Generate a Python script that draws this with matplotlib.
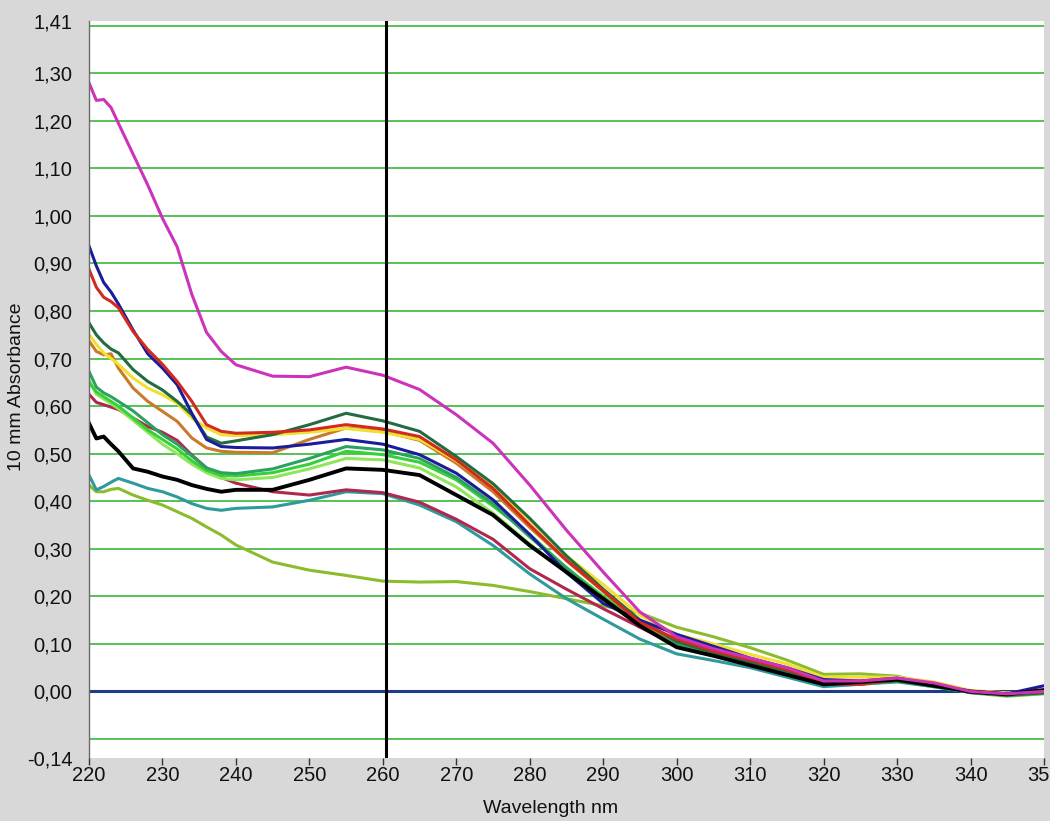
import matplotlib
matplotlib.use("Agg")
import matplotlib.pyplot as plt
from matplotlib.ticker import FixedLocator, FuncFormatter

plt.rcParams['font.family'] = ['Liberation Sans', 'DejaVu Sans']

# wavelength grid (nm) shared by all spectra
wl = [220, 221, 222, 223, 224, 226, 228, 230, 232, 234, 236, 238, 240,
      245, 250, 255, 260, 265, 270, 275, 280, 285, 290, 295, 300,
      305, 310, 315, 320, 325, 330, 335, 340, 345, 350]

# absorbance spectra (10 mm path)
magenta = [1.28, 1.243, 1.245, 1.228, 1.195, 1.13, 1.065, 0.995, 0.935, 0.835, 0.755, 0.715, 0.687,
           0.663, 0.662, 0.682, 0.665, 0.635, 0.582, 0.522, 0.434, 0.339, 0.251, 0.167, 0.115,
           0.09, 0.07, 0.05, 0.022, 0.022, 0.028, 0.018, 0.0, -0.005, 0.0]
navy = [0.937, 0.895, 0.86, 0.84, 0.815, 0.76, 0.71, 0.68, 0.645, 0.585, 0.53, 0.515, 0.513,
        0.512, 0.52, 0.53, 0.52, 0.498, 0.459, 0.403, 0.33, 0.25, 0.185, 0.15, 0.12,
        0.095, 0.07, 0.05, 0.025, 0.022, 0.028, 0.015, -0.002, -0.005, 0.012]
red = [0.888, 0.85, 0.829, 0.82, 0.807, 0.757, 0.719, 0.688, 0.652, 0.61, 0.561, 0.547, 0.543,
       0.545, 0.55, 0.561, 0.552, 0.536, 0.487, 0.427, 0.35, 0.276, 0.212, 0.145, 0.11,
       0.085, 0.066, 0.046, 0.02, 0.015, 0.025, 0.014, 0.0, -0.005, 0.0]
dkgreen = [0.775, 0.75, 0.733, 0.72, 0.712, 0.677, 0.652, 0.634, 0.61, 0.582, 0.535, 0.522, 0.527,
           0.54, 0.561, 0.585, 0.569, 0.547, 0.494, 0.437, 0.364, 0.285, 0.215, 0.15, 0.105,
           0.082, 0.062, 0.043, 0.02, 0.018, 0.022, 0.012, -0.002, -0.008, -0.003]
yellow = [0.751, 0.73, 0.712, 0.70, 0.688, 0.659, 0.638, 0.624, 0.606, 0.575, 0.554, 0.54, 0.538,
          0.54, 0.545, 0.553, 0.545, 0.53, 0.485, 0.43, 0.36, 0.285, 0.225, 0.16, 0.12,
          0.1, 0.078, 0.058, 0.03, 0.03, 0.03, 0.02, 0.002, -0.003, 0.002]
orange = [0.737, 0.715, 0.708, 0.71, 0.68, 0.638, 0.61, 0.589, 0.568, 0.533, 0.512, 0.505, 0.503,
          0.502, 0.53, 0.554, 0.547, 0.528, 0.48, 0.42, 0.345, 0.275, 0.21, 0.145, 0.105,
          0.085, 0.065, 0.045, 0.02, 0.018, 0.024, 0.016, 0.0, -0.006, 0.0]
seagreen = [0.673, 0.64, 0.628, 0.62, 0.61, 0.59, 0.565, 0.54, 0.52, 0.495, 0.47, 0.46, 0.458,
            0.468, 0.49, 0.515, 0.508, 0.49, 0.45, 0.395, 0.325, 0.26, 0.195, 0.14, 0.1,
            0.08, 0.06, 0.04, 0.018, 0.018, 0.022, 0.01, -0.002, -0.008, -0.004]
bright = [0.65, 0.63, 0.62, 0.61, 0.6, 0.575, 0.55, 0.53, 0.51, 0.485, 0.465, 0.455, 0.453,
          0.46, 0.478, 0.505, 0.498, 0.482, 0.445, 0.39, 0.33, 0.26, 0.2, 0.145, 0.105,
          0.082, 0.062, 0.042, 0.018, 0.016, 0.022, 0.012, 0.0, -0.006, -0.002]
light = [0.655, 0.625, 0.615, 0.605, 0.595, 0.57, 0.545, 0.52, 0.5, 0.478, 0.46, 0.448, 0.445,
         0.45, 0.468, 0.49, 0.487, 0.47, 0.43, 0.375, 0.31, 0.25, 0.19, 0.14, 0.1,
         0.08, 0.06, 0.04, 0.018, 0.018, 0.022, 0.012, 0.0, -0.008, -0.004]
maroon = [0.625, 0.608, 0.603, 0.598, 0.593, 0.575, 0.557, 0.545, 0.528, 0.497, 0.47, 0.45, 0.438,
          0.42, 0.413, 0.424, 0.418, 0.398, 0.362, 0.32, 0.258, 0.215, 0.174, 0.135, 0.097,
          0.078, 0.06, 0.04, 0.015, 0.015, 0.025, 0.015, 0.0, -0.005, 0.0]
black = [0.564, 0.532, 0.536, 0.52, 0.505, 0.469, 0.462, 0.452, 0.445, 0.434, 0.426, 0.42, 0.424,
         0.424, 0.445, 0.469, 0.466, 0.455, 0.413, 0.371, 0.307, 0.251, 0.195, 0.138, 0.093,
         0.075, 0.055, 0.035, 0.015, 0.02, 0.025, 0.012, 0.0, -0.006, 0.003]
teal = [0.455, 0.424, 0.431, 0.44, 0.448, 0.438, 0.427, 0.42, 0.409, 0.395, 0.385, 0.381, 0.385,
        0.388, 0.402, 0.42, 0.416, 0.392, 0.357, 0.307, 0.247, 0.195, 0.152, 0.11, 0.079,
        0.065, 0.05, 0.03, 0.01, 0.015, 0.02, 0.01, -0.002, -0.008, -0.003]
olive = [0.434, 0.42, 0.42, 0.425, 0.427, 0.413, 0.402, 0.392, 0.378, 0.364, 0.346, 0.329, 0.308,
         0.272, 0.255, 0.244, 0.232, 0.230, 0.231, 0.223, 0.21, 0.195, 0.18, 0.165, 0.135,
         0.115, 0.092, 0.066, 0.036, 0.037, 0.032, 0.015, -0.003, -0.01, -0.005]

# drawing order (back to front) with colours and widths
spectra = [(olive, '#8cbb2e', 2.2), (teal, '#2f9a9c', 2.2), (maroon, '#b0284e', 2.2),
           (light, '#8ee65a', 2.2), (bright, '#38d038', 2.2), (seagreen, '#2ca25f', 2.2),
           (orange, '#c97a2a', 2.2), (yellow, '#f0e030', 2.2), (dkgreen, '#236b40', 2.2),
           (navy, '#1c1c9a', 2.2), (red, '#d42a1e', 2.2), (black, '#000000', 2.8),
           (magenta, '#cc33bb', 2.2)]

# axis ticks
xticks = [220, 230, 240, 250, 260, 270, 280, 290, 300, 310, 320, 330, 340, 350]
yticks = [-0.14, 0.0, 0.1, 0.2, 0.3, 0.4, 0.5, 0.6, 0.7, 0.8, 0.9, 1.0, 1.1, 1.2, 1.3, 1.41]
grid_levels = [-0.1, 0.1, 0.2, 0.3, 0.4, 0.5, 0.6, 0.7, 0.8, 0.9, 1.0, 1.1, 1.2, 1.3, 1.4]
cursor_wl = 260.4

fig = plt.figure(figsize=(10.5, 8.21), dpi=100)
fig.patch.set_facecolor('#d8d8d8')
ax = fig.add_axes([89/1050, 63/821, 955/1050, 737/821])
ax.set_facecolor('white')

# horizontal grid and zero line
for g in grid_levels:
    ax.axhline(g, color='#55c255', linewidth=1.4, zorder=1)
ax.axhline(0.0, color='#1f3c8c', linewidth=2.2, zorder=1.5)

for values, col, lw in spectra:
    ax.plot(wl, values, color=col, linewidth=lw, zorder=2)

# cursor line
ax.axvline(cursor_wl, color='black', linewidth=2.2, zorder=3)

ax.set_xlim(220, 350)
ax.set_ylim(-0.14, 1.41)
ax.xaxis.set_major_locator(FixedLocator(xticks))
ax.yaxis.set_major_locator(FixedLocator(yticks))
ax.yaxis.set_major_formatter(FuncFormatter(lambda v, p: ('%.2f' % v).replace('.', ',')))
ax.xaxis.set_major_formatter(FuncFormatter(lambda v, p: '%d' % v))

for s in ['top', 'right', 'bottom']:
    ax.spines[s].set_visible(False)
ax.spines['left'].set_color('#6a6a6a')
ax.spines['left'].set_linewidth(1.0)

ax.tick_params(axis='x', direction='out', length=5, width=1, color='#333333',
               pad=1, labelsize=14.5, labelcolor='#111111')
ax.tick_params(axis='y', length=0, pad=12, labelsize=14.5, labelcolor='#111111')

fig.text(551/1050, 1 - 808/821, 'Wavelength nm', ha='center', va='center',
         fontsize=14, color='#111111')
fig.text(17/1050, 1 - 387/821, '10 mm Absorbance', ha='center', va='center',
         rotation=90, fontsize=14, color='#111111')

fig.savefig('out.png', dpi=100, facecolor=fig.get_facecolor())
